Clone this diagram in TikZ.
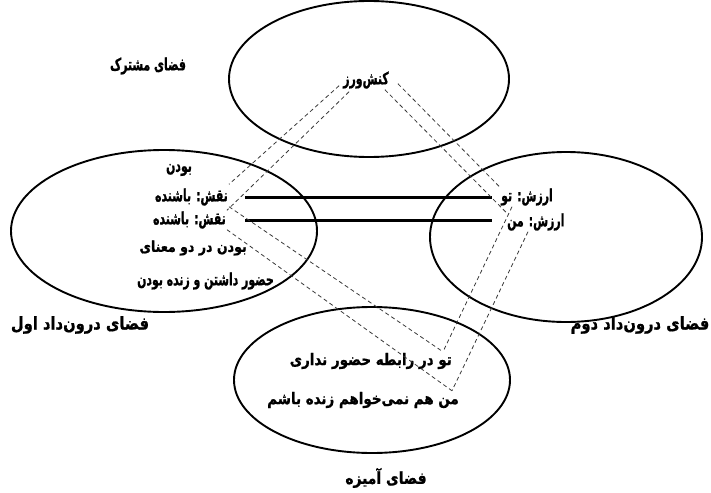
\documentclass[tikz,border=0pt]{standalone}
\usepackage{fontspec}
\newfontfamily\fafont[Script=Arabic, BoldFont={DejaVu Sans Bold}, BoldFeatures={FakeStretch=0.64, FakeBold=1}]{DejaVu Sans}
\newfontfamily\fawide[Script=Arabic, BoldFont={DejaVu Sans Bold}, BoldFeatures={FakeStretch=0.84, FakeBold=1}]{DejaVu Sans}
\TeXXeTstate=1
\usetikzlibrary{calc}

\begin{document}
\begin{tikzpicture}[x=1pt, y=-1pt,
    every node/.style={font=\fafont\bfseries\fontsize{17}{19}\selectfont, inner sep=1pt},
    wide/.style={font=\fawide\bfseries\fontsize{#1}{19}\selectfont},
    space/.style={line width=1.9pt},
    link/.style={gray!45!black, line width=0.8pt, dash pattern=on 4pt off 3pt},
    bond/.style={line width=3pt}
]
\useasboundingbox (0,0) rectangle (711,492);
% Four spaces
\foreach \cx/\cy/\rx/\ry in {369/79/140/78, 164/231/153/81, 566/237/136/85, 372/380/138/73}
    \draw[space] (\cx,\cy) ellipse [x radius=\rx, y radius=\ry];
% Space names
\node (shared) at (148,66) {\beginR فضای مشترک\endR};
\node[wide=17.5] (input1) at (80,325) {\beginR فضای درون‌داد اول\endR};
\node[wide=17.5] (input2) at (640,325) {\beginR فضای درون‌داد دوم\endR};
\node[wide=16.5] (blend) at (386,478) {\beginR فضای آمیزه\endR};
% Contents
\node (actor) at (366,80) {\beginR کنش‌ورز\endR};
\node (being) at (179,170) {\beginR بودن\endR};
\node[anchor=east] (roleA) at (229,197) {\beginR نقش: باشنده\endR};
\node[anchor=east] (roleB) at (227,220) {\beginR نقش: باشنده\endR};
\node[anchor=east, wide=15] (sense) at (248,248) {\beginR بودن در دو معنای\endR};
\node[anchor=east] (presence) at (275,281) {\beginR حضور داشتن و زنده بودن\endR};
\node[anchor=west] (valueA) at (500,197) {\beginR ارزش: تو\endR};
\node[anchor=west] (valueB) at (506,222) {\beginR ارزش: من\endR};
\node[anchor=east, wide=16] (blendA) at (453,361) {\beginR تو در رابطه حضور نداری\endR};
\node[anchor=east, wide=16] (blendB) at (460,400) {\beginR من هم نمی‌خواهم زنده باشم\endR};
% Counterparts
\draw[bond] ([xshift=16pt]roleA.east) -- ($(roleA.east -| valueA.west)+(-8,0)$);
\draw[bond] ([xshift=18pt]roleB.east) -- ($(roleB.east -| valueB.west)+(-14,0)$);
% Mappings
\draw[link] ([shift={(-3,-4)}]actor.south west) -- ([yshift=3pt]roleA.north east);
\draw[link] ([shift={(7,2)}]actor.south west) -- (roleB.north east);
\draw[link] ([shift={(8,-6)}]actor.south east) -- (valueA.north west);
\draw[link] ([shift={(-5,0)}]actor.south east) -- (valueB.north west);
\draw[link] (roleA.south east) -- ([xshift=-10pt]blendA.north east);
\draw[link] (roleB.south east) -- ([xshift=-8pt]blendB.north east);
\draw[link] ([xshift=12pt]valueA.south west) -- ([xshift=-10pt]blendA.north east);
\draw[link] ([xshift=22pt]valueB.south west) -- ([xshift=-8pt]blendB.north east);
\end{tikzpicture}
\end{document}
